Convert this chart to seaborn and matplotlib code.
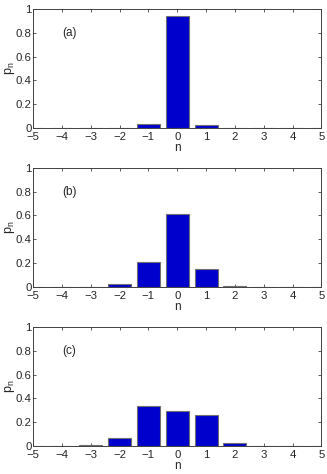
import numpy as np
import pandas as pd
import matplotlib
matplotlib.use("Agg")
import matplotlib.pyplot as plt
import seaborn as sns

# n values and probabilities for the three panels
n_vals = [-5, -4, -3, -2, -1, 0, 1, 2, 3, 4, 5]
p_a = [0, 0, 0, 0, 0.034, 0.944, 0.022, 0, 0, 0, 0]
p_b = [0, 0, 0.0005, 0.02, 0.212, 0.615, 0.152, 0.005, 0, 0, 0]
p_c = [0, 0, 0.005, 0.07, 0.336, 0.293, 0.259, 0.025, 0, 0, 0]
panel_labels = ["(a)", "(b)", "(c)"]
x_ticks = [-5, -4, -3, -2, -1, 0, 1, 2, 3, 4, 5]
y_ticks = [0, 0.2, 0.4, 0.6, 0.8, 1]

sns.set_style("ticks")
plt.rcParams['font.family'] = ['Liberation Sans', 'DejaVu Sans']
plt.rcParams['xtick.direction'] = 'in'
plt.rcParams['ytick.direction'] = 'in'

fig = plt.figure(figsize=(3.27, 4.74), dpi=100)

# axes positions in figure fractions
bottoms = [0.730, 0.395, 0.059]
for p, lab, b in zip([p_a, p_b, p_c], panel_labels, bottoms):
    ax = fig.add_axes([0.101, b, 0.882, 0.251])
    df = pd.DataFrame({'n': n_vals, 'p': p})
    sns.barplot(data=df, x='n', y='p', native_scale=True, width=0.8,
                color='#0000CC', saturation=1, edgecolor='#707070',
                linewidth=0.8, ax=ax)
    ax.set_xlim(-5, 5)
    ax.set_ylim(0, 1)
    ax.set_xticks(x_ticks)
    ax.set_xticklabels([str(t).replace('-', '\u2212') for t in x_ticks])
    ax.set_yticks(y_ticks)
    ax.set_yticklabels(['0', '0.2', '0.4', '0.6', '0.8', '1'])
    ax.tick_params(labelsize=8.2, length=2.5, width=0.6, color='#404040',
                   top=True, right=True)
    ax.tick_params(axis='x', pad=3)
    ax.tick_params(axis='y', pad=1)
    for s in ax.spines.values():
        s.set_visible(True)
        s.set_color('#404040')
        s.set_linewidth(0.7)
    ax.set_xlabel('n', fontsize=8.5, labelpad=0)
    ax.set_ylabel('$\\mathregular{p_n}$', fontsize=9, labelpad=-1)
    ax.text(-4, 0.8, lab, fontsize=8.5, va='center', ha='left')

plt.savefig('out.png', dpi=100)
